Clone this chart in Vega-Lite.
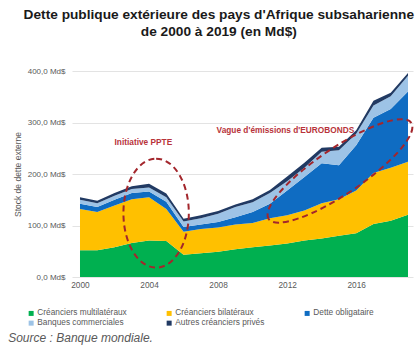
{
  "$schema": "https://vega.github.io/schema/vega-lite/v6.json",
  "padding": {"left": 8, "top": 7, "right": 4, "bottom": 2},
  "background": "white",
  "config": {
    "font": "Liberation Sans",
    "view": {"stroke": null}
  },
  "title": {
    "text": "Source : Banque mondiale.",
    "orient": "bottom",
    "anchor": "start",
    "fontStyle": "italic",
    "fontWeight": "normal",
    "fontSize": 12,
    "color": "#595959",
    "offset": 6,
    "dx": -5
  },
  "datasets": {
    "dette": [
      {"annee": 2000, "Créanciers multilatéraux": 52, "Créanciers bilatéraux": 80, "Dette obligataire": 10, "Banques commerciales": 8, "Autres créanciers privés": 5},
      {"annee": 2001, "Créanciers multilatéraux": 52, "Créanciers bilatéraux": 74, "Dette obligataire": 10, "Banques commerciales": 7, "Autres créanciers privés": 5},
      {"annee": 2002, "Créanciers multilatéraux": 58, "Créanciers bilatéraux": 81, "Dette obligataire": 11, "Banques commerciales": 8, "Autres créanciers privés": 5},
      {"annee": 2003, "Créanciers multilatéraux": 66, "Créanciers bilatéraux": 85, "Dette obligataire": 12, "Banques commerciales": 8, "Autres créanciers privés": 5},
      {"annee": 2004, "Créanciers multilatéraux": 71, "Créanciers bilatéraux": 84, "Dette obligataire": 11, "Banques commerciales": 8, "Autres créanciers privés": 7},
      {"annee": 2005, "Créanciers multilatéraux": 70, "Créanciers bilatéraux": 62, "Dette obligataire": 14, "Banques commerciales": 9, "Autres créanciers privés": 7},
      {"annee": 2006, "Créanciers multilatéraux": 43, "Créanciers bilatéraux": 45, "Dette obligataire": 9, "Banques commerciales": 11, "Autres créanciers privés": 5},
      {"annee": 2007, "Créanciers multilatéraux": 46, "Créanciers bilatéraux": 47, "Dette obligataire": 9, "Banques commerciales": 12, "Autres créanciers privés": 6},
      {"annee": 2008, "Créanciers multilatéraux": 49, "Créanciers bilatéraux": 47, "Dette obligataire": 11, "Banques commerciales": 16, "Autres créanciers privés": 5},
      {"annee": 2009, "Créanciers multilatéraux": 54, "Créanciers bilatéraux": 48, "Dette obligataire": 14, "Banques commerciales": 20, "Autres créanciers privés": 5},
      {"annee": 2010, "Créanciers multilatéraux": 58, "Créanciers bilatéraux": 47, "Dette obligataire": 21, "Banques commerciales": 19, "Autres créanciers privés": 6},
      {"annee": 2011, "Créanciers multilatéraux": 61, "Créanciers bilatéraux": 53, "Dette obligataire": 28, "Banques commerciales": 21, "Autres créanciers privés": 6},
      {"annee": 2012, "Créanciers multilatéraux": 65, "Créanciers bilatéraux": 55, "Dette obligataire": 48, "Banques commerciales": 18, "Autres créanciers privés": 9},
      {"annee": 2013, "Créanciers multilatéraux": 71, "Créanciers bilatéraux": 58, "Dette obligataire": 65, "Banques commerciales": 18, "Autres créanciers privés": 10},
      {"annee": 2014, "Créanciers multilatéraux": 75, "Créanciers bilatéraux": 68, "Dette obligataire": 78, "Banques commerciales": 22, "Autres créanciers privés": 8},
      {"annee": 2015, "Créanciers multilatéraux": 80, "Créanciers bilatéraux": 71, "Dette obligataire": 66, "Banques commerciales": 29, "Autres créanciers privés": 7},
      {"annee": 2016, "Créanciers multilatéraux": 85, "Créanciers bilatéraux": 83, "Dette obligataire": 88, "Banques commerciales": 22, "Autres créanciers privés": 7},
      {"annee": 2017, "Créanciers multilatéraux": 103, "Créanciers bilatéraux": 99, "Dette obligataire": 107, "Banques commerciales": 24, "Autres créanciers privés": 9},
      {"annee": 2018, "Créanciers multilatéraux": 109, "Créanciers bilatéraux": 103, "Dette obligataire": 114, "Banques commerciales": 25, "Autres créanciers privés": 7},
      {"annee": 2019, "Créanciers multilatéraux": 121, "Créanciers bilatéraux": 103, "Dette obligataire": 136, "Banques commerciales": 31, "Autres créanciers privés": 5}
    ],
    "categories": [
      {"type": "Créanciers multilatéraux", "rang": 1},
      {"type": "Créanciers bilatéraux", "rang": 2},
      {"type": "Dette obligataire", "rang": 3},
      {"type": "Banques commerciales", "rang": 4},
      {"type": "Autres créanciers privés", "rang": 5}
    ],
    "ellipses": [
      {"id": "ppte", "annee": 2004.41, "valeur": 124},
      {"id": "euro", "annee": 2015.06, "valeur": 206}
    ],
    "textes": [
      {"label": "Initiative PPTE", "annee": 2003.67, "valeur": 260},
      {"label": "Vague d'émissions d'EUROBONDS", "annee": 2011.9, "valeur": 283.5}
    ]
  },
  "vconcat": [
    {
      "width": 341,
      "height": 206,
      "title": {
        "text": ["Dette publique extérieure des pays d'Afrique subsaharienne", "de 2000 à 2019 (en Md$)"],
        "anchor": "middle",
        "frame": "bounds",
        "fontSize": 13.7,
        "fontWeight": "bold",
        "color": "#1a1a1a",
        "lineHeight": 17.4,
        "offset": 28,
        "dx": 4
      },
      "layer": [
        {
          "data": {"name": "dette"},
          "transform": [
            {"fold": ["Créanciers multilatéraux", "Créanciers bilatéraux", "Dette obligataire", "Banques commerciales", "Autres créanciers privés"], "as": ["type", "valeur"]},
            {"lookup": "type", "from": {"data": {"name": "categories"}, "key": "type", "fields": ["rang"]}}
          ],
          "mark": {"type": "area", "opacity": 1},
          "encoding": {
            "x": {
              "field": "annee", "type": "quantitative",
              "scale": {"domain": [1999.537, 2019.29], "nice": false, "zero": false},
              "axis": {
                "values": [2000, 2002, 2004, 2006, 2008, 2010, 2012, 2014, 2016, 2018],
                "format": "d", "title": null, "grid": false, "domain": false, "ticks": false,
                "labelFontSize": 8.3, "labelColor": "#595959", "labelPadding": 3
              }
            },
            "y": {
              "field": "valeur", "type": "quantitative", "stack": "zero",
              "scale": {"domain": [0, 400], "nice": false},
              "axis": {
                "values": [0, 50, 100, 150, 200, 250, 300, 350, 400],
                "labelExpr": "replace(format(datum.value, '.1f'), '.', ',') + ' Md$'",
                "title": "Stock de dette externe",
                "titleFontSize": 8.5, "titleFontWeight": "normal", "titleColor": "#595959", "titlePadding": 5,
                "labelFontSize": 8, "labelColor": "#595959", "labelPadding": 7,
                "domain": false, "ticks": false, "gridColor": "#e3e3e3", "gridWidth": 1
              }
            },
            "order": {"field": "rang", "type": "quantitative", "sort": "ascending"},
            "color": {
              "field": "type", "type": "nominal",
              "sort": ["Créanciers multilatéraux", "Créanciers bilatéraux", "Dette obligataire", "Banques commerciales", "Autres créanciers privés"],
              "scale": {
                "domain": ["Créanciers multilatéraux", "Créanciers bilatéraux", "Dette obligataire", "Banques commerciales", "Autres créanciers privés"],
                "range": ["#00b050", "#ffc000", "#0f6cc2", "#9dc3e6", "#213a63"]
              },
              "legend": {
                "title": null, "orient": "none", "legendX": -45, "legendY": 238,
                "direction": "horizontal", "columns": 3, "columnPadding": 38, "rowPadding": 1,
                "symbolType": "square", "symbolSize": 25, "symbolStrokeWidth": 0,
                "labelFontSize": 8.3, "labelColor": "#595959", "labelOffset": 2
              }
            }
          }
        },
        {
          "data": {"name": "ellipses"},
          "transform": [{"filter": "datum.id === 'ppte'"}],
          "mark": {
            "type": "point",
            "shape": "M0,-1C0.331,-1,0.6,-0.552,0.6,0C0.6,0.552,0.331,1,0,1C-0.331,1,-0.6,0.552,-0.6,0C-0.6,-0.552,-0.331,-1,0,-1Z",
            "size": 11881, "filled": false, "stroke": "#a3262c", "strokeWidth": 2, "strokeDash": [6, 4], "opacity": 1
          },
          "encoding": {
            "x": {"field": "annee", "type": "quantitative"},
            "y": {"field": "valeur", "type": "quantitative"}
          }
        },
        {
          "data": {"name": "ellipses"},
          "transform": [{"filter": "datum.id === 'euro'"}],
          "mark": {
            "type": "point",
            "shape": "M-1,0C-1,-0.148,-0.552,-0.267,0,-0.267C0.552,-0.267,1,-0.148,1,0C1,0.148,0.552,0.267,0,0.267C-0.552,0.267,-1,0.148,-1,0Z",
            "size": 29584, "angle": -34, "filled": false, "stroke": "#a3262c", "strokeWidth": 2, "strokeDash": [6, 4], "opacity": 1
          },
          "encoding": {
            "x": {"field": "annee", "type": "quantitative"},
            "y": {"field": "valeur", "type": "quantitative"}
          }
        },
        {
          "data": {"name": "textes"},
          "mark": {"type": "text", "fontWeight": "bold", "fontSize": 8.3, "color": "#b8333a", "align": "center", "baseline": "middle"},
          "encoding": {
            "x": {"field": "annee", "type": "quantitative"},
            "y": {"field": "valeur", "type": "quantitative"},
            "text": {"field": "label"}
          }
        }
      ]
    }
  ]
}
